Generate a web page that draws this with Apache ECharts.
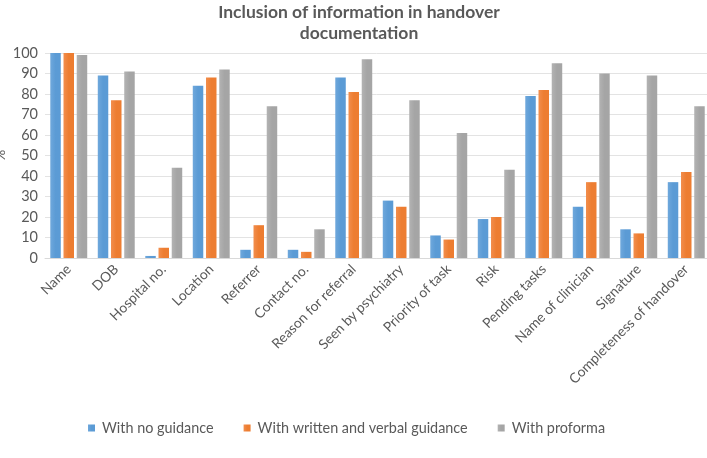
<!DOCTYPE html>
<html>
<head>
<meta charset="utf-8">
<script src="https://cdn.jsdelivr.net/npm/echarts@6/dist/echarts.min.js"></script>
<style>
html,body{margin:0;padding:0;background:#fff;}
#chart{width:707px;height:458px;}
</style>
</head>
<body>
<div id="chart"></div>
<script>
const categories = ["Name","DOB","Hospital no.","Location","Referrer","Contact no.","Reason for referral","Seen by psychiatry","Priority of task","Risk","Pending tasks","Name of clinician","Signature","Completeness of handover"];
const noGuidance = [100,89,1,84,4,4,88,28,11,19,79,25,14,37];
const writtenVerbal = [100,77,5,88,16,3,81,25,9,20,82,37,12,42];
const proforma = [99,91,44,92,74,14,97,77,61,43,95,90,89,74];
const seriesNames = ["With no guidance","With written and verbal guidance","With proforma"];
const yTicks = [0,10,20,30,40,50,60,70,80,90,100];

const FONT = 'Lato, "Liberation Sans", sans-serif';
function grad(c1, c2){
  return new echarts.graphic.LinearGradient(0,0,1,0,[{offset:0,color:c1},{offset:0.5,color:c2},{offset:1,color:c2}]);
}
const chart = echarts.init(document.getElementById('chart'), null, {renderer:'canvas'});
const mk = (name, data, c1, c2) => ({
  name, type:'bar', data, barWidth:10.5, barGap:'26%',
  itemStyle:{color:grad(c1,c2)},
  emphasis:{disabled:true}
});
chart.setOption({
  animation:false,
  backgroundColor:'#ffffff',
  color:['#5B9BD5','#ED7D31','#A5A5A5'],
  title:{
    text:'Inclusion of information in handover\ndocumentation',
    left:359, top:2, padding:0, textAlign:'center',
    textStyle:{fontFamily:FONT, fontSize:17.5, fontWeight:'bold', color:'#595959', lineHeight:21}
  },
  legend:{
    data:seriesNames,
    left:83, top:416,
    itemWidth:7, itemHeight:7, itemGap:30,
    icon:'rect',
    textStyle:{fontFamily:FONT, fontSize:14.4, color:'#595959', padding:[0,0,0,2]}
  },
  grid:{left:45, top:53, width:665, height:205, containLabel:false, outerBoundsMode:'none'},
  xAxis:{
    type:'category', data:categories,
    axisLine:{lineStyle:{color:'#D9D9D9'}},
    axisTick:{show:false},
    axisLabel:{rotate:45, interval:0, margin:9, fontFamily:FONT, fontSize:13.8, color:'#595959'}
  },
  yAxis:{
    type:'value', min:0, max:100, interval:10,
    name:'%', nameLocation:'middle', nameGap:38, nameRotate:90, nameMoveOverlap:false,
    nameTextStyle:{fontFamily:FONT, fontSize:14, color:'#595959'},
    axisLine:{show:false}, axisTick:{show:false},
    splitLine:{lineStyle:{color:'#E3E3E3'}},
    axisLabel:{margin:7, fontFamily:FONT, fontSize:14.5, color:'#595959',
      formatter:v => yTicks.includes(v) ? String(v) : ''}
  },
  series:[
    mk(seriesNames[0], noGuidance, '#6FA8DC', '#5B9BD5'),
    mk(seriesNames[1], writtenVerbal, '#F28E4D', '#ED7D31'),
    mk(seriesNames[2], proforma, '#B3B3B3', '#A5A5A5')
  ]
});
</script>
</body>
</html>
